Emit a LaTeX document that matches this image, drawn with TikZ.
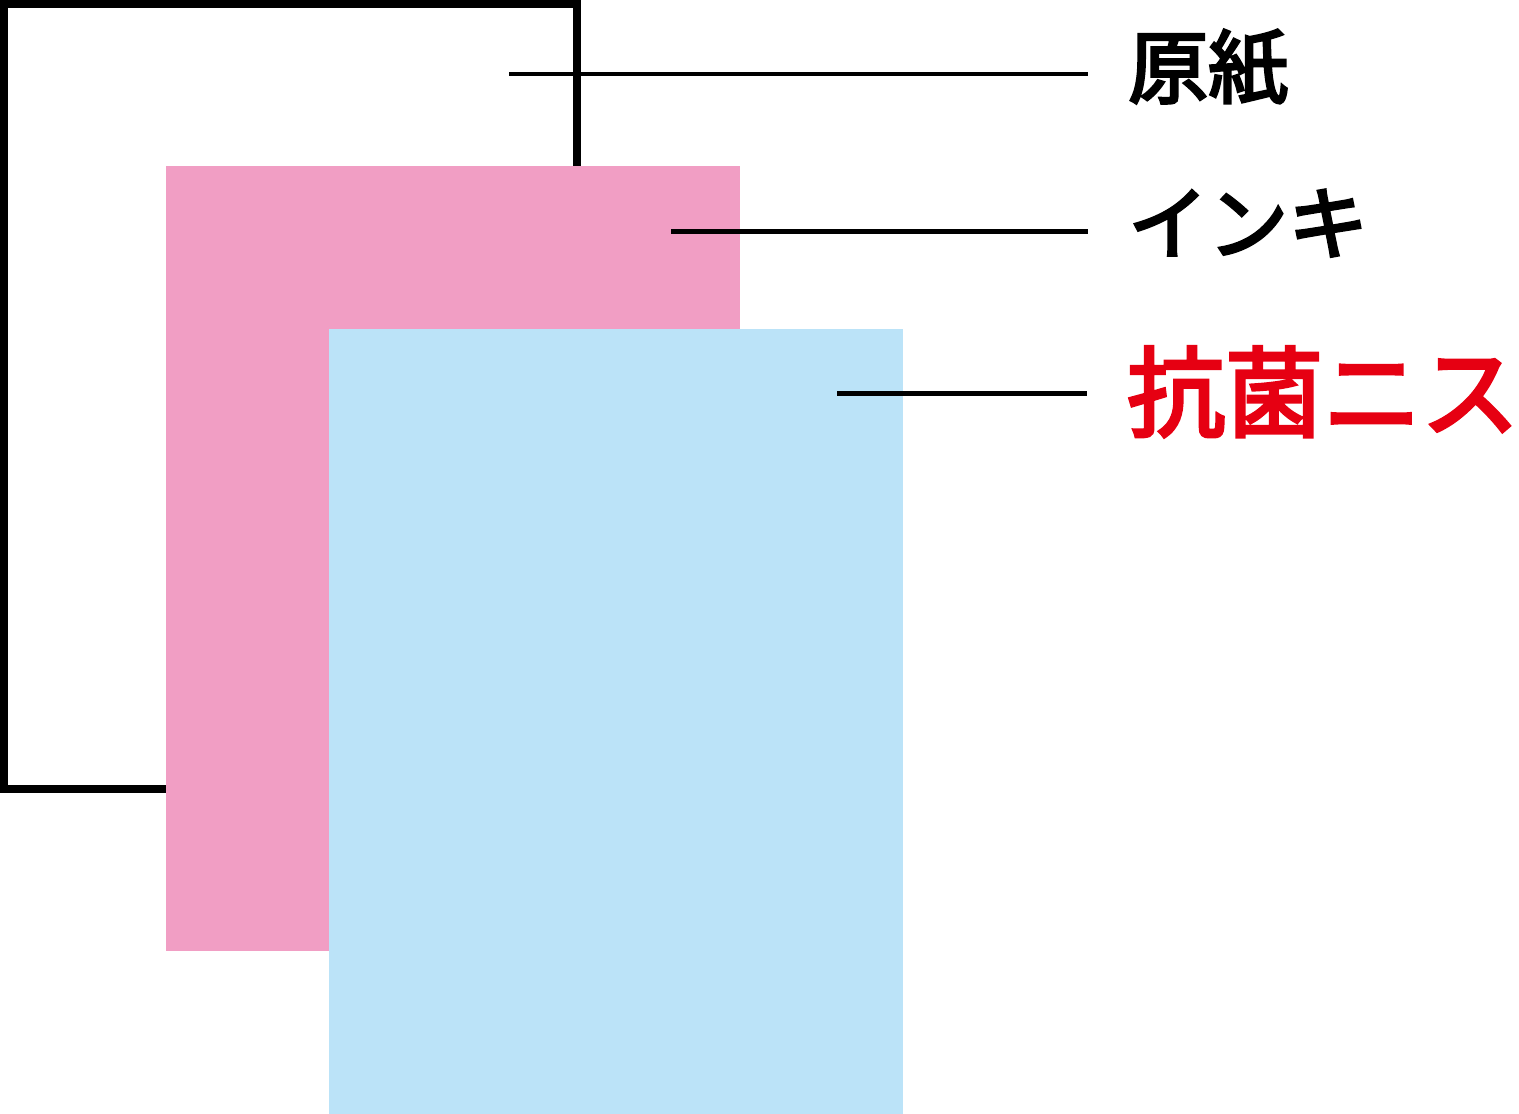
\documentclass[tikz,border=0pt]{standalone}
\usepackage{fontspec}
\newfontfamily\jpfont{Noto Sans CJK JP}[FakeBold=3.5]
\definecolor{inkpink}{RGB}{241,158,196}
\definecolor{varnishblue}{RGB}{187,227,248}
\definecolor{labelred}{RGB}{230,0,18}
\tikzset{
  leader/.style={line width=4.5pt,shorten >=40pt},
  layerlabel/.style={anchor=base west,inner sep=0pt,font=\jpfont\fontsize{80}{80}\selectfont}
}
\begin{document}
\begin{tikzpicture}[x=1pt,y=-1pt]
    \useasboundingbox (0,0) rectangle (1519,1114);
    % paper, ink, varnish
    \draw[line width=8pt] (4,4) rectangle (577,789);
    \fill[inkpink] (166,166) rectangle (740,951);
    \fill[varnishblue] (329,329) rectangle (903,1114);
    \coordinate (paper) at (509,74);
    \coordinate (ink) at (671,231.5);
    \coordinate (varnish) at (837,393.5);
    \node[layerlabel] (paperlabel) at (1128,97) {原紙};
    \node[layerlabel] (inklabel) at (1128,253) {インキ};
    \node[layerlabel,text=labelred,font=\jpfont\fontsize{98}{98}\selectfont] (varnishlabel) at (1127,429) {抗菌ニス};
    \draw[leader] (paper) -- (paper -| paperlabel.west);
    \draw[leader] (ink) -- (ink -| inklabel.west);
    \draw[leader] (varnish) -- (varnish -| varnishlabel.west);
\end{tikzpicture}
\end{document}
